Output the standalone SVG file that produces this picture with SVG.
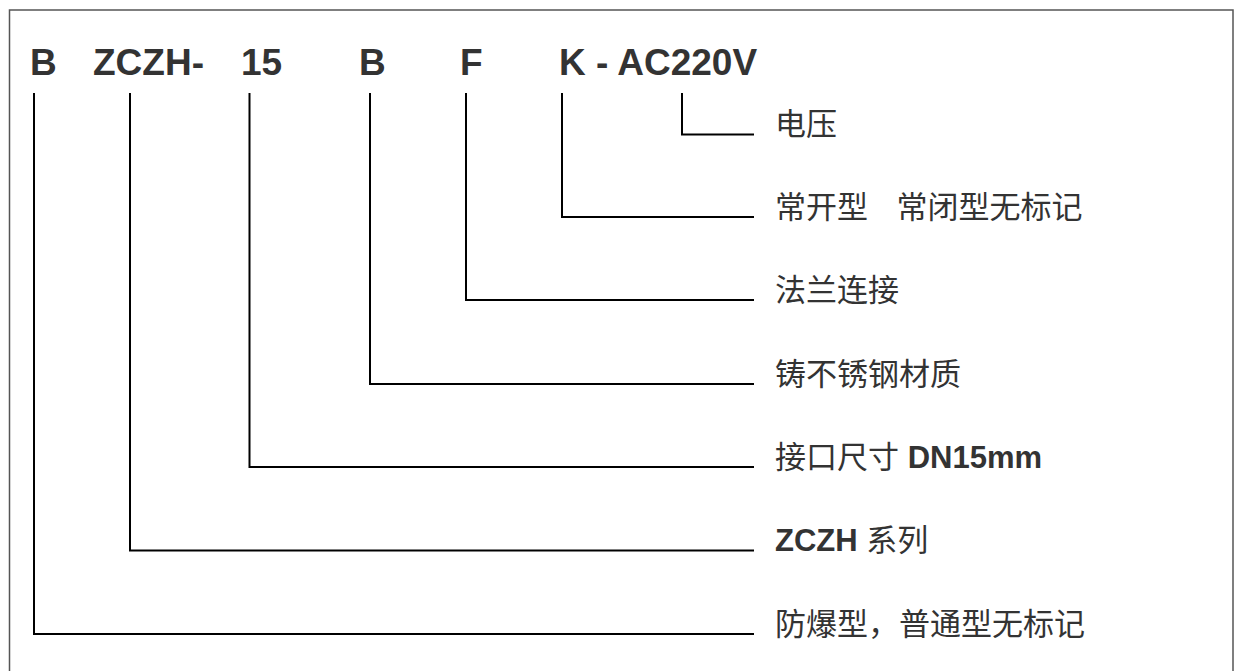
<svg xmlns="http://www.w3.org/2000/svg" width="1234" height="671" viewBox="0 0 1234 671">
<style>
.code{font-family:"Liberation Sans",Arial,sans-serif;font-weight:bold;font-size:37px;fill:#333}
.lab{font-family:"Liberation Sans","Noto Sans CJK SC",sans-serif;font-size:31px;fill:#333}
.b{font-weight:bold}
.ln{fill:none;stroke:#000;stroke-width:2}
</style>
<rect x="9.5" y="10" width="1223.5" height="670" fill="#fff" stroke="#555" stroke-width="1.5"/>
<g id="code-B"><text class="code" x="30" y="75">B</text></g>
<g id="code-ZCZH"><text class="code" x="93" y="75">ZCZH-</text></g>
<g id="code-15"><text class="code" x="241" y="75">15</text></g>
<g id="code-B2"><text class="code" x="359" y="75">B</text></g>
<g id="code-F"><text class="code" x="460" y="75">F</text></g>
<g id="code-K-AC220V"><text class="code" x="559" y="75">K - AC220V</text></g>
<g id="connectors">
<path class="ln" d="M682 93V134.5H754"/>
<path class="ln" d="M562 93V217H754"/>
<path class="ln" d="M466 93V300H754"/>
<path class="ln" d="M370 93V384H754"/>
<path class="ln" d="M249.5 93V467H754"/>
<path class="ln" d="M130 93V550.5H754"/>
<path class="ln" d="M34 93V634H754"/>
</g>
<g id="label-voltage"><text class="lab" x="775" y="135">电压</text></g>
<g id="label-normally"><text class="lab" x="775" y="218" word-spacing="20">常开型 常闭型无标记</text></g>
<g id="label-flange"><text class="lab" x="775" y="301">法兰连接</text></g>
<g id="label-material"><text class="lab" x="775" y="385">铸不锈钢材质</text></g>
<g id="label-size"><text class="lab" x="775" y="468">接口尺寸 <tspan class="b">DN15mm</tspan></text></g>
<g id="label-series"><text class="lab" x="775" y="551"><tspan class="b">ZCZH</tspan> 系列</text></g>
<g id="label-explosion"><text class="lab" x="775" y="635">防爆型，普通型无标记</text></g>
</svg>
